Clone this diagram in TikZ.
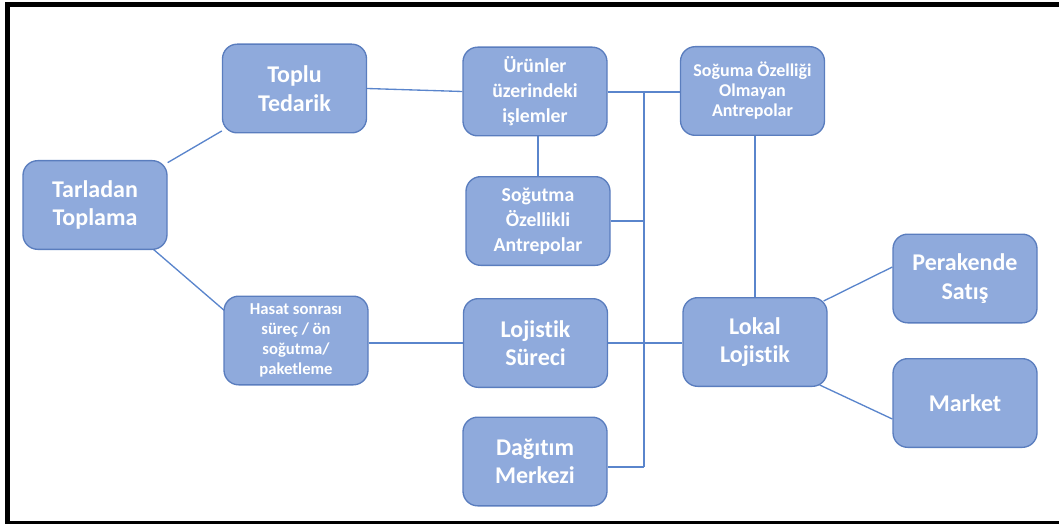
\documentclass[tikz,border=0pt]{standalone}
\usepackage{fontspec}
\setmainfont{Carlito}[Ligatures=NoCommon]
\usetikzlibrary{backgrounds,calc}
\definecolor{boxfill}{HTML}{8FAADC}
\definecolor{boxline}{HTML}{5A7DBE}
\definecolor{lineblue}{HTML}{5A85CC}
\tikzset{
  box/.style={draw=boxline, fill=boxfill, line width=1pt, rounded corners=11pt,
    minimum width=108pt, minimum height=66.5pt, inner sep=0pt, align=center,
    text=white, font=\bfseries\fontsize{18}{21.5}\selectfont},
  medtext/.style={font=\bfseries\fontsize{14.8}{18.75}\selectfont},
  smltext/.style={font=\bfseries\fontsize{12.5}{15}\selectfont},
  xstext/.style={font=\bfseries\fontsize{13.5}{15}\selectfont},
  conn/.style={draw=lineblue, line width=1pt}
}
\begin{document}
\begin{tikzpicture}[x=0.75pt, y=-0.75pt]
\useasboundingbox (0,0) rectangle (1059,524);
% frame
\fill[black] (5,2) rectangle (1059,7);
\fill[black] (5,2) rectangle (10,524);
\fill[black] (5,521) rectangle (1059,524);

% nodes
\node[box] (tar) at (95,205) {Tarladan\\Toplama};
\node[box] (toplu) at (294.5,88.5) {Toplu\\Tedarik};
\node[box, medtext] (urun) at (535,91.5) {Ürünler\\üzerindeki\\işlemler};
\node[box, xstext] (sogu) at (752.5,91) {Soğuma Özelliği\\Olmayan\\Antrepolar};
\node[box, medtext] (sogut) at (538,221) {Soğutma\\Özellikli\\Antrepolar};
\node[box] (loj) at (535.5,343) {Lojistik\\Süreci};
\node[box] (dag) at (535,461.5) {Dağıtım\\Merkezi};
\node[box, smltext] (hasat) at (296,340.5) {Hasat sonrası\\süreç / ön\\soğutma/\\paketleme};
\node[box] (lokal) at (755,342) {Lokal\\Lojistik};
\node[box] (per) at (965,278.5) {Perakende\\Satış};
\node[box] (mkt) at (965,403) {Market};

\coordinate (bt) at (644,92);
\coordinate (bb) at (644,467);

\begin{scope}[on background layer]
\draw[conn] (tar) -- (toplu);
\draw[conn] ($(tar.south east)+(-17,-3)$) -- ($(hasat.north west)+(8,21)$);
\draw[conn] (toplu.east) -- (urun.west);
\draw[conn] (urun.east |- bt) -- (sogu.west |- bt);
\draw[conn] (bt) -- (bb);
\draw[conn] (sogut.east) -- (sogut.east -| bt);
\draw[conn] ($(dag.east)+(0,5.5)$) -- (bb);
\draw[conn] (loj.east) -- (loj.east -| lokal.west);
\draw[conn] (sogut.north) -- (sogut.north |- urun.south);
\draw[conn] ($(sogut.south)+(-2,0)$) -- ($(sogut.south)+(-2,0)$ |- loj.north);
\draw[conn] ($(loj.south)+(-2,0)$) -- ($(loj.south)+(-2,0)$ |- dag.north);
\draw[conn] (hasat.east |- loj.west) -- (loj.west);
\draw[conn] (lokal.north |- sogu.south) -- (lokal.north);
\draw[conn] ($(lokal.north east)+(-4,4)$) -- ($(per.west)+(0,-11.5)$);
\draw[conn] ($(lokal.south east)+(-8,-2)$) -- ($(mkt.west)+(0,16)$);
\end{scope}
\end{tikzpicture}
\end{document}
